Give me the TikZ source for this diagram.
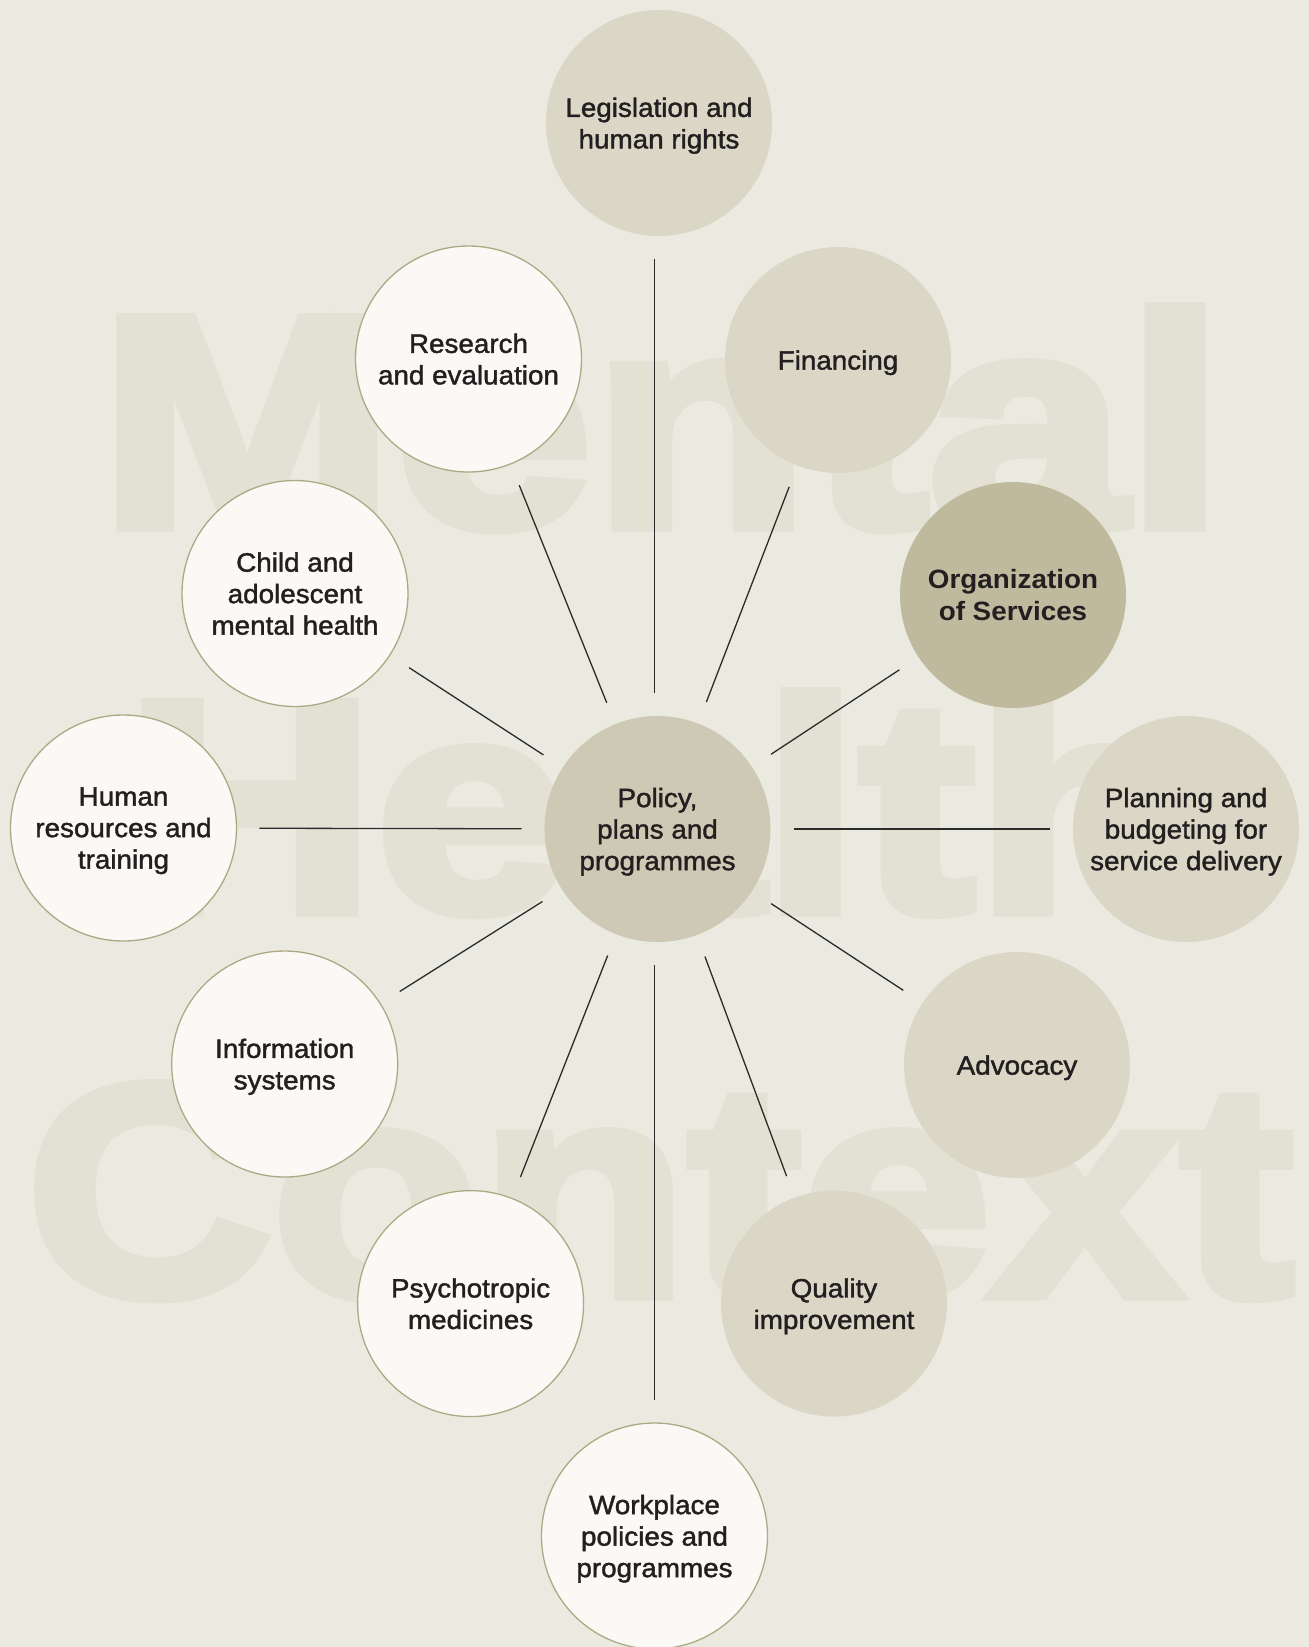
\documentclass[tikz,border=0pt]{standalone}
\usepackage{fontspec}
\setmainfont{Liberation Sans}[FakeStretch=1.05,FakeBold=1.5]
\newfontfamily\labelbold{Liberation Sans Bold}[FakeStretch=1.05]
\newfontfamily\bgfontM{Liberation Sans Bold}[FakeStretch=1.185,FakeBold=4]
\newfontfamily\bgfontH{Liberation Sans Bold}[FakeStretch=1.16,FakeBold=4]
\newfontfamily\bgfontC{Liberation Sans Bold}[FakeStretch=1.135,FakeBold=4]
\definecolor{bgcol}{HTML}{EBEAE1}
\definecolor{bgtext}{HTML}{E3E1D4}
\definecolor{lightc}{HTML}{DAD7C7}
\definecolor{orgc}{HTML}{BFBA9D}
\definecolor{polc}{HTML}{CDC9B4}
\definecolor{whitec}{HTML}{FAF9F5}
\definecolor{borderc}{HTML}{ADA984}
\definecolor{txt}{HTML}{231F20}
\definecolor{linec}{HTML}{2B2B2B}
\begin{document}
\begin{tikzpicture}[x=1pt,y=-1pt,
  circ/.style={circle,minimum size=226pt,inner sep=0pt,outer sep=0pt,align=center,text=txt,
    text depth=0pt,font=\fontsize{26.5}{31.5}\selectfont},
  lightcirc/.style={circ,fill=lightc},
  whitecirc/.style={circ,fill=whitec,draw=borderc,line width=1.3pt},
  orgcirc/.style={circ,fill=orgc,font=\fontsize{26.5}{31.5}\labelbold},
  polcirc/.style={circ,fill=polc},
  spoke/.style={draw=linec,line width=1.3pt,shorten <=23pt,shorten >=23pt},
  bgword/.style={anchor=base west,inner sep=0pt,text=bgtext}
]
\fill[bgcol] (0,0) rectangle (1309,1647);
\useasboundingbox (0,0) rectangle (1309,1647);
% background words
\node[bgword,font=\fontsize{300}{300}\bgfontM] (wm) at (98.5,525.5) {Mental};
\node[bgword,font=\fontsize{300}{300}\bgfontH] (wh) at (124,910.5) {Health};
\node[bgword,font=\fontsize{300}{300}\bgfontC] (wc) at (26,1294.5) {Context};
% circles
\node[polcirc] (pol) at (657.5,829) {Policy,\\plans and\\programmes};
\node[lightcirc] (leg) at (659,123) {Legislation and\\human rights};
\node[whitecirc] (res) at (468.5,359) {Research\\and evaluation};
\node[lightcirc] (fin) at (838,360) {Financing};
\node[whitecirc] (chi) at (295,593.5) {Child and\\adolescent\\mental health};
\node[orgcirc] (org) at (1013,595) {Organization\\of Services};
\node[whitecirc] (hum) at (123.5,828) {Human\\resources and\\training};
\node[lightcirc] (pla) at (1186,829) {Planning and\\budgeting for\\service delivery};
\node[whitecirc] (inf) at (284.7,1064) {Information\\systems};
\node[lightcirc] (adv) at (1017,1065) {Advocacy};
\node[whitecirc] (psy) at (470.6,1303.6) {Psychotropic\\medicines};
\node[lightcirc] (qua) at (834,1303.6) {Quality\\improvement};
\node[whitecirc] (wor) at (654.5,1536) {Workplace\\policies and\\programmes};
% spokes
\draw[spoke] ([xshift=-3pt]pol.north) -- ([xshift=-4.5pt]leg.south);
\draw[spoke] ([xshift=-3pt]pol.south) -- (wor.north);
\foreach \n in {res,fin,chi,org,hum,pla,inf,adv,psy,qua}
  \draw[spoke] (pol) -- (\n);
\end{tikzpicture}
\end{document}
